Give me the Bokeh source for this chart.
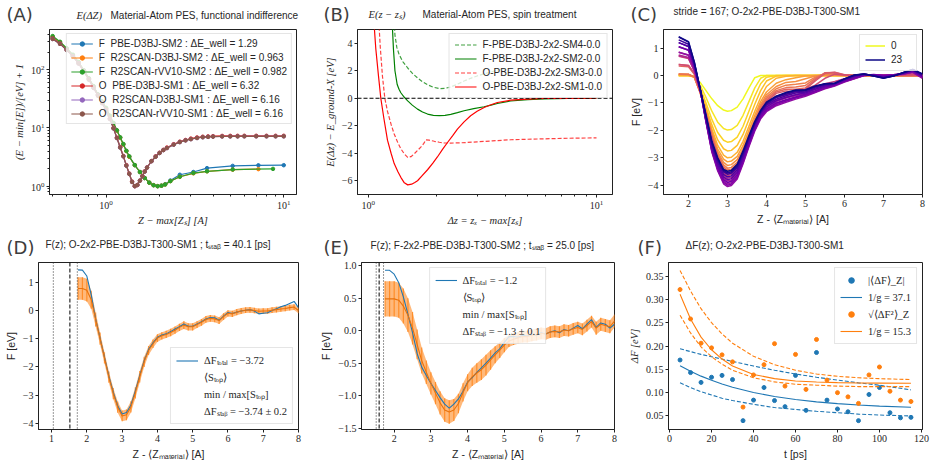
import numpy as np
from bokeh.plotting import figure
from bokeh.models import (Range1d, FixedTicker, CustomJSTickFormatter, Legend,
                          LegendItem, Span)
from bokeh.core.properties import value
from bokeh.layouts import column, row
from bokeh.embed import file_html
from bokeh.resources import INLINE
from bokeh.palettes import Plasma256

# ------------------------------------------------------------------ data (A)
A_X_O = [0.50, 0.55, 0.60, 0.65, 0.70, 0.75, 0.80, 0.85, 0.90, 0.95,
         1.00, 1.05, 1.10, 1.15, 1.20, 1.25, 1.30, 1.35, 1.40, 1.45,
         1.50, 1.55, 1.60, 1.65, 1.70, 1.80, 1.90, 2.00, 2.10, 2.20,
         2.40, 2.60, 2.80, 3.00, 3.25, 3.50, 3.75, 4.00, 4.50, 5.00,
         5.50, 6.00, 7.00, 8.00, 9.00, 10.0]
A_O_PBE = [343, 280, 218, 170, 128, 93, 68, 49, 36, 27,
           20.5, 14.5, 10.0, 6.8, 4.7, 3.3, 2.3, 1.65, 1.2, 1.0,
           1.05, 1.25, 1.5, 1.8, 2.1, 2.7, 3.25, 3.75, 4.2, 4.6,
           5.25, 5.8, 6.2, 6.55, 6.85, 7.05, 7.15, 7.22, 7.28, 7.30,
           7.31, 7.32, 7.32, 7.32, 7.32, 7.32]
A_O_R2 = [335, 276, 216, 169, 127, 92, 67, 48.5, 35.5, 26.5,
          20.0, 14.2, 9.8, 6.7, 4.6, 3.25, 2.25, 1.62, 1.18, 1.0,
          1.05, 1.24, 1.48, 1.78, 2.08, 2.68, 3.2, 3.7, 4.15, 4.5,
          5.15, 5.7, 6.1, 6.4, 6.7, 6.9, 7.0, 7.07, 7.12, 7.14,
          7.15, 7.16, 7.16, 7.16, 7.16, 7.16]
A_X_F = [0.50, 0.55, 0.60, 0.65, 0.70, 0.75, 0.80, 0.85, 0.90, 0.95,
         1.00, 1.05, 1.10, 1.15, 1.20, 1.25, 1.30, 1.35, 1.45, 1.55,
         1.65, 1.75, 1.85, 1.95, 2.05, 2.15, 2.30, 2.60, 3.10, 3.70,
         5.16, 7.20, 10.0]
A_F_PBE = [360, 290, 225, 175, 132, 96, 70, 51, 37, 28,
           21.5, 16.0, 12.0, 9.0, 6.8, 5.2, 4.0, 3.2, 2.3, 1.75,
           1.38, 1.15, 1.04, 1.0, 1.02, 1.08, 1.25, 1.57, 1.75, 2.04,
           2.23, 2.28, 2.29]
A_X_F_R2D = [0.50, 0.55, 0.60, 0.65, 0.70, 0.75, 0.80, 0.85, 0.90, 0.95,
             1.00, 1.05, 1.10, 1.15, 1.20, 1.25, 1.30, 1.35, 1.45, 1.55,
             1.65, 1.75, 1.85, 1.95, 2.05, 2.15, 2.30, 2.60, 3.10, 3.70,
             5.16, 7.20]
A_F_R2D = [365, 293, 227, 176, 133, 96, 70, 51, 37, 28,
           21.5, 16.0, 12.0, 9.0, 6.8, 5.2, 4.0, 3.2, 2.3, 1.75,
           1.38, 1.15, 1.04, 1.0, 1.02, 1.07, 1.22, 1.45, 1.66, 1.80,
           1.92, 1.96]
A_X_F_R2V = [0.50, 0.55, 0.60, 0.65, 0.70, 0.75, 0.80, 0.85, 0.90, 0.95,
             1.00, 1.05, 1.10, 1.15, 1.20, 1.25, 1.30, 1.35, 1.45, 1.55,
             1.65, 1.75, 1.85, 1.95, 2.05, 2.15, 2.30, 2.60, 3.10, 3.70,
             5.16, 8.70]
A_F_R2V = [376, 300, 232, 180, 135, 97, 71, 52, 37.5, 28.5,
           22.0, 16.2, 12.2, 9.1, 6.9, 5.3, 4.05, 3.25, 2.3, 1.75,
           1.38, 1.15, 1.04, 1.0, 1.02, 1.07, 1.22, 1.45, 1.68, 1.80,
           1.93, 1.98]
A_LABELS = ["F  PBE-D3BJ-SM2 : ΔE_well = 1.29",
            "F  R2SCAN-D3BJ-SM2 : ΔE_well = 0.963",
            "F  R2SCAN-rVV10-SM2 : ΔE_well = 0.982",
            "O  PBE-D3BJ-SM1 : ΔE_well = 6.32",
            "O  R2SCAN-D3BJ-SM1 : ΔE_well = 6.16",
            "O  R2SCAN-rVV10-SM1 : ΔE_well = 6.16"]
A_XTICKS = [1, 10]
A_XMINOR = [0.5, 0.6, 0.7, 0.8, 0.9, 2, 3, 4, 5, 6, 7, 8, 9]
A_YTICKS = [1, 10, 100]
A_YMINOR = [0.8, 0.9, 2, 3, 4, 5, 6, 7, 8, 9, 20, 30, 40, 50, 60, 70, 80, 90, 200, 300, 400]

# ------------------------------------------------------------------ data (B)
B_X_SM4 = [1.29, 1.31, 1.335, 1.367, 1.42, 1.49, 1.56, 1.645, 1.73, 1.82,
           1.93, 2.05, 2.17, 2.30, 2.46, 2.63, 2.81, 3.00, 3.22, 3.45, 3.70, 4.00]
B_E_SM4 = [6.5, 4.6, 3.7, 3.17, 2.65, 2.2, 1.82, 1.48, 1.2, 0.98,
           0.8, 0.7, 0.72, 0.82, 1.02, 1.25, 1.45, 1.62, 1.78, 1.92, 2.05, 2.15]
B_X_SM2 = [1.270, 1.29, 1.31, 1.34, 1.365, 1.39, 1.44, 1.49, 1.56, 1.645,
           1.73, 1.82, 1.93, 2.05, 2.17, 2.30, 2.46, 2.63, 2.90, 3.22,
           3.45, 3.68, 4.21, 5.00, 5.90, 7.50, 10.0]
B_E_SM2 = [6.0, 3.6, 2.0, 1.0, 0.65, 0.4, 0.07, -0.19, -0.5, -0.79,
           -1.0, -1.15, -1.24, -1.27, -1.24, -1.17, -1.05, -0.91, -0.76, -0.62,
           -0.5, -0.38, -0.2, -0.1, -0.05, -0.02, 0.0]
B_X_SM3 = [1.105, 1.13, 1.155, 1.183, 1.215, 1.26, 1.30, 1.35, 1.39, 1.44,
           1.49, 1.54, 1.59, 1.645, 1.70, 1.75, 1.79, 1.85, 1.95, 2.05,
           2.15, 2.30, 2.46, 2.70, 3.00, 3.50, 4.21, 5.00, 5.90, 7.50, 10.0]
B_E_SM3 = [6.5, 3.7, 1.6, 0.0, -0.95, -1.9, -2.6, -3.25, -3.67, -4.05,
           -4.3, -4.25, -4.05, -3.8, -3.55, -3.3, -3.02, -3.05, -3.13, -3.2,
           -3.25, -3.26, -3.25, -3.22, -3.17, -3.1, -3.02, -2.98, -2.95, -2.91, -2.88]
B_X_SM1 = [1.055, 1.08, 1.11, 1.136, 1.17, 1.215, 1.26, 1.30, 1.35, 1.39,
           1.44, 1.49, 1.55, 1.60, 1.645, 1.72, 1.82, 1.92, 2.01, 2.12,
           2.23, 2.35, 2.46, 2.63, 2.81, 3.00, 3.22, 3.45, 3.68, 4.21,
           5.00, 5.90, 7.50, 10.0]
B_E_SM1 = [6.0, 3.6, 1.6, 0.0, -1.4, -3.05, -4.0, -4.75, -5.35, -5.75,
           -6.15, -6.3, -6.25, -6.12, -6.0, -5.65, -5.2, -4.72, -4.27, -3.7,
           -3.2, -2.7, -2.25, -1.72, -1.27, -0.95, -0.67, -0.47, -0.31, -0.14,
           -0.06, -0.02, -0.01, 0.0]
B_LABELS = ["F-PBE-D3BJ-2x2-SM4-0.0", "F-PBE-D3BJ-2x2-SM2-0.0",
            "O-PBE-D3BJ-2x2-SM3-0.0", "O-PBE-D3BJ-2x2-SM1-0.0"]
B_REF = 0.0
B_XTICKS = [1, 10]
B_XMINOR = [2, 3, 4, 5, 6, 7, 8, 9]
B_YTICKS = [-6, -4, -2, 0, 2, 4]

# ------------------------------------------------------------------ data (C)
C_X = [1.75, 2.0, 2.15, 2.3, 2.45, 2.6, 2.75, 2.9,
       3.0, 3.1, 3.25, 3.4, 3.55, 3.7, 3.85, 4.0,
       4.25, 4.5, 4.75, 5.0, 5.25, 5.5, 5.75, 6.0,
       6.25, 6.5, 6.75, 7.0, 7.25, 7.5, 7.75, 8.0]
C_F00 = [0, 0, -0.02, -0.25, -0.55, -0.85, -1.10, -1.26,
         -1.30, -1.28, -1.15, -0.85, -0.45, -0.08, 0, 0,
         0, 0, 0, 0, 0, 0, 0, 0,
         0, 0, 0, 0, 0, 0, 0, 0]
C_F01 = [0, 0, -0.03, -0.35, -0.80, -1.30, -1.70, -1.93,
         -1.99, -1.97, -1.82, -1.45, -0.95, -0.45, -0.10, 0,
         0, 0, 0, 0, 0, 0, 0, 0,
         0, 0, 0, 0, 0, 0, 0, 0]
C_F02 = [0, 0, -0.04, -0.45, -1.00, -1.60, -2.08, -2.36,
         -2.43, -2.41, -2.25, -1.85, -1.30, -0.75, -0.30, -0.06,
         0, 0, 0, 0, 0, 0, 0, 0,
         0, 0, 0, 0, 0, 0, 0, 0]
C_F03 = [0, 0, -0.05, -0.50, -1.15, -1.80, -2.35, -2.67,
         -2.75, -2.73, -2.55, -2.15, -1.60, -1.05, -0.55, -0.20,
         -0.02, 0, 0, 0, 0, 0, 0, 0,
         0, 0, 0, 0, 0, 0, 0, 0]
C_F04 = [0, 0, -0.05, -0.55, -1.25, -1.95, -2.55, -2.90,
         -3.00, -2.98, -2.80, -2.40, -1.85, -1.30, -0.80, -0.40,
         -0.10, -0.03, 0, 0, 0, 0, 0, 0,
         0, 0, 0, 0, 0, 0, 0, 0]
C_F05 = [0.05, 0.04, -0.05, -0.60, -1.30, -2.05, -2.68, -3.05,
         -3.15, -3.12, -2.95, -2.55, -2.00, -1.45, -0.95, -0.60,
         -0.28, -0.15, -0.08, -0.02, 0, 0, 0, 0,
         0, 0, 0, 0, 0, 0, 0, 0]
C_F06 = [0.05, 0.04, -0.06, -0.62, -1.35, -2.12, -2.78, -3.17,
         -3.28, -3.25, -3.07, -2.67, -2.12, -1.57, -1.05, -0.70,
         -0.40, -0.25, -0.22, -0.12, -0.02, 0.03, 0.01, 0,
         0, 0, 0, 0, 0, 0, 0, 0]
C_F07 = [0.05, 0.04, -0.06, -0.63, -1.38, -2.18, -2.86, -3.26,
         -3.38, -3.35, -3.17, -2.76, -2.21, -1.65, -1.12, -0.78,
         -0.48, -0.35, -0.32, -0.27, -0.06, 0.06, 0.04, 0,
         0, 0, 0, 0, 0, 0, 0, 0]
C_F08 = [0.06, 0.05, -0.05, -0.62, -1.40, -2.22, -2.92, -3.33,
         -3.45, -3.42, -3.24, -2.83, -2.28, -1.72, -1.18, -0.84,
         -0.55, -0.44, -0.42, -0.36, -0.10, 0.10, 0.08, 0.01,
         0, 0, 0, 0, 0, 0, 0, 0]
C_F09 = [0.35, 0.32, 0.05, -0.58, -1.42, -2.26, -2.96, -3.38,
         -3.50, -3.47, -3.29, -2.88, -2.33, -1.77, -1.24, -0.90,
         -0.60, -0.50, -0.50, -0.45, -0.15, 0.10, 0.11, 0.02,
         0, 0, 0, 0, 0, 0, 0, 0]
C_F10 = [0.40, 0.37, 0.08, -0.56, -1.43, -2.29, -3.00, -3.43,
         -3.55, -3.52, -3.34, -2.93, -2.38, -1.82, -1.30, -0.95,
         -0.65, -0.56, -0.60, -0.50, -0.20, 0.08, 0.12, 0.03,
         0, 0.02, 0, 0, 0, 0, 0, 0]
C_F11 = [0.40, 0.37, 0.08, -0.56, -1.44, -2.31, -3.03, -3.47,
         -3.60, -3.57, -3.39, -2.98, -2.43, -1.87, -1.36, -1.02,
         -0.75, -0.65, -0.55, -0.50, -0.35, -0.10, 0.05, 0.02,
         -0.02, 0.02, 0, 0.02, 0, 0.03, 0.05, -0.02]
C_F12 = [0.70, 0.62, 0.18, -0.52, -1.53, -2.52, -3.14, -3.56,
         -3.65, -3.61, -3.39, -2.88, -2.30, -1.75, -1.33, -1.05,
         -0.80, -0.70, -0.62, -0.55, -0.42, -0.30, -0.22, -0.12,
         -0.04, 0.03, 0.01, 0.02, 0, 0.04, 0.10, -0.03]
C_F13 = [0.72, 0.64, 0.18, -0.52, -1.57, -2.59, -3.23, -3.66,
         -3.75, -3.71, -3.49, -2.96, -2.36, -1.80, -1.38, -1.10,
         -0.88, -0.78, -0.70, -0.60, -0.50, -0.38, -0.30, -0.18,
         -0.08, 0, 0.03, 0, 0.03, 0.05, 0.12, -0.06]
C_F14 = [0.75, 0.66, 0.18, -0.53, -1.62, -2.66, -3.31, -3.75,
         -3.85, -3.81, -3.58, -3.05, -2.45, -1.88, -1.45, -1.18,
         -0.95, -0.82, -0.74, -0.66, -0.55, -0.40, -0.32, -0.20,
         -0.10, 0.01, 0.02, -0.02, 0.02, 0.05, 0.14, -0.08]
C_F15 = [0.85, 0.74, 0.22, -0.52, -1.66, -2.73, -3.40, -3.85,
         -3.95, -3.91, -3.68, -3.14, -2.53, -1.95, -1.52, -1.25,
         -1.02, -0.90, -0.80, -0.72, -0.60, -0.45, -0.35, -0.22,
         -0.12, 0, 0.03, 0, 0.03, 0.06, 0.13, -0.08]
C_F16 = [0.85, 0.75, 0.22, -0.52, -1.70, -2.79, -3.48, -3.95,
         -4.05, -4.01, -3.77, -3.22, -2.60, -2.02, -1.58, -1.32,
         -1.10, -0.98, -0.86, -0.76, -0.62, -0.48, -0.38, -0.24,
         -0.12, 0, 0.03, 0.01, 0.03, 0.06, 0.12, -0.10]
C_F17 = [1.05, 0.92, 0.30, -0.50, -1.68, -2.76, -3.44, -3.90,
         -4.00, -3.96, -3.72, -3.17, -2.55, -1.98, -1.54, -1.28,
         -1.06, -0.94, -0.82, -0.72, -0.60, -0.46, -0.36, -0.22,
         -0.10, 0.01, 0.04, 0, 0.02, 0.06, 0.14, -0.06]
C_F18 = [1.05, 0.93, 0.32, -0.50, -1.64, -2.69, -3.35, -3.80,
         -3.90, -3.86, -3.63, -3.09, -2.48, -1.92, -1.48, -1.22,
         -1.00, -0.88, -0.78, -0.68, -0.56, -0.42, -0.34, -0.20,
         -0.08, 0.02, 0.03, -0.02, 0.02, 0.07, 0.16, -0.04]
C_F19 = [1.20, 1.06, 0.38, -0.49, -1.60, -2.62, -3.27, -3.71,
         -3.80, -3.76, -3.53, -3.00, -2.40, -1.84, -1.40, -1.14,
         -0.92, -0.80, -0.70, -0.64, -0.50, -0.38, -0.32, -0.17,
         -0.04, 0.04, 0.02, -0.05, 0, 0.08, 0.18, -0.02]
C_F20 = [1.20, 1.06, 0.40, -0.49, -1.55, -2.55, -3.18, -3.61,
         -3.70, -3.66, -3.44, -2.92, -2.33, -1.78, -1.36, -1.08,
         -0.86, -0.74, -0.64, -0.60, -0.46, -0.35, -0.30, -0.15,
         -0.02, 0.05, 0, -0.07, -0.01, 0.09, 0.20, 0]
C_F21 = [1.30, 1.14, 0.44, -0.49, -1.51, -2.48, -3.10, -3.51,
         -3.60, -3.56, -3.35, -2.84, -2.27, -1.73, -1.32, -1.03,
         -0.80, -0.68, -0.58, -0.56, -0.42, -0.32, -0.29, -0.13,
         0, 0.06, -0.01, -0.08, -0.02, 0.10, 0.21, 0.03]
C_F22 = [1.40, 1.22, 0.48, -0.49, -1.49, -2.45, -3.05, -3.46,
         -3.55, -3.51, -3.30, -2.80, -2.24, -1.70, -1.30, -1.00,
         -0.77, -0.64, -0.55, -0.54, -0.40, -0.31, -0.28, -0.12,
         0.01, 0.06, -0.02, -0.09, -0.02, 0.10, 0.22, 0.05]
C_F23 = [1.42, 1.24, 0.50, -0.50, -1.45, -2.40, -3.00, -3.43,
         -3.49, -3.46, -3.24, -2.75, -2.20, -1.68, -1.27, -0.97,
         -0.75, -0.62, -0.53, -0.52, -0.38, -0.30, -0.28, -0.12,
         0.02, 0.06, -0.02, -0.10, -0.02, 0.10, 0.22, 0.06]
C_CURVES = [C_F00, C_F01, C_F02, C_F03, C_F04, C_F05, C_F06, C_F07, C_F08, C_F09,
            C_F10, C_F11, C_F12, C_F13, C_F14, C_F15, C_F16, C_F17, C_F18, C_F19,
            C_F20, C_F21, C_F22, C_F23]
C_XTICKS = [2, 3, 4, 5, 6, 7, 8]
C_YTICKS = [-4, -3, -2, -1, 0, 1]

# ------------------------------------------------------------------ data (D, E)
X_DE = [1.75, 1.875, 2.0, 2.125, 2.25, 2.375, 2.5, 2.625, 2.75, 2.875,
        3.0, 3.125, 3.25, 3.375, 3.5, 3.625, 3.75, 3.875, 4.0, 4.125,
        4.25, 4.375, 4.5, 4.625, 4.75, 4.875, 5.0, 5.125, 5.25, 5.375,
        5.5, 5.625, 5.75, 5.875, 6.0, 6.125, 6.25, 6.375, 6.5, 6.625,
        6.75, 6.875, 7.0, 7.125, 7.25, 7.375, 7.5, 7.625, 7.75, 7.875,
        8.0]
D_TOTAL = [1.44, 1.43, 1.22, 0.55, -0.30, -0.98, -1.65, -2.33, -2.90, -3.38,
           -3.67, -3.62, -3.35, -2.85, -2.30, -1.78, -1.38, -1.15, -0.95, -0.87,
           -0.83, -0.75, -0.66, -0.58, -0.48, -0.56, -0.56, -0.48, -0.40, -0.30,
           -0.25, -0.26, -0.35, -0.20, -0.07, -0.11, -0.06, -0.02, 0.01, 0.03,
           -0.02, -0.12, -0.10, -0.08, 0.00, 0.06, 0.13, 0.18, 0.25, 0.32,
           0.10]
D_STAB = [0.78, 0.78, 0.72, 0.38, -0.32, -1.00, -1.68, -2.36, -2.95, -3.43,
          -3.74, -3.70, -3.42, -2.92, -2.35, -1.82, -1.42, -1.18, -0.98, -0.90,
          -0.85, -0.78, -0.70, -0.60, -0.52, -0.58, -0.58, -0.50, -0.42, -0.32,
          -0.28, -0.30, -0.36, -0.22, -0.10, -0.12, -0.06, -0.02, 0.01, 0.02,
          0.00, -0.03, -0.02, -0.02, 0.01, 0.03, 0.05, 0.07, 0.10, 0.12,
          0.00]
D_ERR = [0.40, 0.40, 0.40, 0.32, 0.25, 0.22, 0.20, 0.20, 0.20, 0.20,
         0.19, 0.19, 0.20, 0.20, 0.20, 0.18, 0.16, 0.15, 0.14, 0.13,
         0.13, 0.13, 0.13, 0.13, 0.14, 0.13, 0.13, 0.12, 0.12, 0.12,
         0.12, 0.12, 0.12, 0.12, 0.11, 0.11, 0.11, 0.11, 0.10, 0.10,
         0.10, 0.10, 0.10, 0.10, 0.10, 0.10, 0.10, 0.10, 0.10, 0.10,
         0.10]
D_S_MINMAX = [1.05, 1.73]
D_S_MEAN = [1.52]
E_TOTAL = [0.93, 0.93, 0.87, 0.74, 0.52, 0.25, -0.03, -0.35, -0.56, -0.69,
           -0.81, -0.92, -1.03, -1.13, -1.19, -1.13, -1.05, -0.93, -0.79, -0.72,
           -0.64, -0.57, -0.50, -0.42, -0.34, -0.28, -0.18, -0.09, -0.09, -0.10,
           -0.07, -0.08, -0.05, -0.07, -0.03, -0.05, -0.02, 0.00, -0.03, 0.02,
           0.00, 0.04, 0.08, 0.03, 0.10, 0.17, 0.05, 0.12, 0.10, 0.04,
           0.10]
E_STAB = [0.49, 0.49, 0.49, 0.47, 0.38, 0.24, 0.04, -0.21, -0.46, -0.64,
          -0.81, -0.96, -1.11, -1.22, -1.25, -1.22, -1.12, -0.95, -0.80, -0.71,
          -0.65, -0.60, -0.53, -0.45, -0.37, -0.30, -0.22, -0.16, -0.13, -0.11,
          -0.09, -0.09, -0.07, -0.06, -0.04, -0.05, -0.02, -0.01, -0.02, 0.01,
          0.00, 0.03, 0.05, 0.02, 0.08, 0.14, 0.04, 0.10, 0.08, 0.06,
          0.15]
E_ERR = [0.27, 0.27, 0.27, 0.27, 0.27, 0.26, 0.25, 0.23, 0.20, 0.18,
         0.17, 0.17, 0.18, 0.18, 0.18, 0.17, 0.15, 0.14, 0.13, 0.14,
         0.15, 0.16, 0.16, 0.15, 0.13, 0.12, 0.11, 0.09, 0.09, 0.09,
         0.09, 0.09, 0.09, 0.09, 0.09, 0.09, 0.09, 0.09, 0.09, 0.09,
         0.09, 0.09, 0.09, 0.09, 0.09, 0.09, 0.10, 0.10, 0.10, 0.10,
         0.10]
E_S_MINMAX = [1.51, 1.71]
E_S_MEAN = [1.59]
D_XTICKS = [1, 2, 3, 4, 5, 6, 7, 8]
D_YTICKS = [-4, -3, -2, -1, 0, 1]
E_XTICKS = [2, 3, 4, 5, 6, 7, 8]
E_YTICKS = [-1.5, -1.0, -0.5, 0.0, 0.5, 1.0]

# ------------------------------------------------------------------ data (F)
F_T = [5, 10, 15, 20, 25, 30, 35, 40, 45, 50, 55, 60, 65, 70, 75, 80, 85, 90,
       95, 100, 105, 110, 115]
F_ABS = [0.170, 0.143, 0.122, 0.133, 0.137, 0.128, 0.040, 0.084, 0.111, 0.083,
         0.070, 0.137, 0.062, 0.186, 0.084, 0.065, 0.059, 0.040, 0.096, 0.111,
         0.057, 0.046, 0.047]
F_RMS = [0.321, 0.258, 0.206, 0.196, 0.181, 0.166, 0.069, 0.138, 0.160, 0.205,
         0.114, 0.182, 0.107, 0.214, 0.127, 0.100, 0.091, 0.077, 0.138, 0.155,
         0.103, 0.084, 0.081]
F_TFIT = [5, 10, 15, 20, 25, 30, 40, 50, 60, 70, 80, 90, 100, 115]
F_ABS_FIT = [0.1575, 0.1457, 0.1354, 0.1264, 0.1186, 0.1116, 0.1004, 0.0918,
             0.0852, 0.0802, 0.0764, 0.0735, 0.0712, 0.0688]
F_ABS_HI = [0.194, 0.188, 0.182, 0.177, 0.172, 0.167, 0.157, 0.148, 0.140,
            0.133, 0.127, 0.121, 0.116, 0.106]
F_ABS_LO = [0.121, 0.111, 0.102, 0.095, 0.088, 0.083, 0.075, 0.068, 0.064,
            0.060, 0.057, 0.054, 0.052, 0.050]
F_RMS_FIT = [0.311, 0.258, 0.219, 0.192, 0.172, 0.157, 0.139, 0.130, 0.125,
             0.1227, 0.1214, 0.1207, 0.1204, 0.120]
F_RMS_HI = [0.362, 0.318, 0.280, 0.250, 0.226, 0.206, 0.178, 0.160, 0.148,
            0.140, 0.135, 0.132, 0.130, 0.128]
F_RMS_LO = [0.266, 0.228, 0.198, 0.177, 0.161, 0.148, 0.132, 0.123, 0.118,
            0.116, 0.114, 0.113, 0.113, 0.113]
F_XTICKS = [0, 20, 40, 60, 80, 100, 120]
F_YTICKS = [0.05, 0.10, 0.15, 0.20, 0.25, 0.30, 0.35]

# ------------------------------------------------------------------ titles
TITLE_A = ("E(ΔZ)", "Material-Atom PES, functional indifference")
TITLE_B = ("E(z − zₛ)", "Material-Atom PES, spin treatment")
TITLE_C = "stride = 167; O-2x2-PBE-D3BJ-T300-SM1"
TITLE_D = "F(z); O-2x2-PBE-D3BJ-T300-SM1 ; tₛₜₐᵦ = 40.1 [ps]"
TITLE_E = "F(z); F-2x2-PBE-D3BJ-T300-SM2 ; tₛₜₐᵦ = 25.0 [ps]"
TITLE_F = "ΔF(z); O-2x2-PBE-D3BJ-T300-SM1"

# ------------------------------------------------------------------ styling helpers
SERIF = "Liberation Serif"
SANS = "Liberation Sans"
LETTER_FONT = "DejaVu Sans"
TXT = "#262626"
BLUE, ORANGE, GREEN, RED, PURPLE, BROWN = ("#1f77b4", "#ff7f0e", "#2ca02c",
                                           "#d62728", "#9467bd", "#8c564b")
DOT = "1 2"
DASH = "4 2"
LETTER_SIZE = "18px"
LETTER_COLOR = "#3d3d3d"
W_TOTAL = 934
H_HEAD1 = 24
H_HEAD2 = 23


def num_fmt(d):
    return CustomJSTickFormatter(args=dict(d=d), code="""
        const a = Math.abs(tick) < 1e-9 ? 0 : tick;
        const s = Math.abs(a).toFixed(d);
        return (a < 0 ? "\\u2212" : "") + s;
    """)


def make_fig(w, h, bl, br, bt, bb, xr, yr, xt="linear", yt="linear"):
    p = figure(width=w, height=h, x_range=Range1d(*xr), y_range=Range1d(*yr),
               x_axis_type=xt, y_axis_type=yt, output_backend="svg",
               toolbar_location=None, title_location=None,
               min_border_left=bl, min_border_right=br,
               min_border_top=bt, min_border_bottom=bb)
    p.xgrid.visible = False
    p.ygrid.visible = False
    p.outline_line_color = "#222222"
    p.outline_line_width = 1
    p.outline_line_alpha = 1.0
    p.background_fill_color = "white"
    p.border_fill_color = "white"
    for ax in (p.xaxis[0], p.yaxis[0]):
        ax.axis_line_color = "#222222"
        ax.major_tick_line_color = "#222222"
        ax.minor_tick_line_color = "#222222"
        ax.major_tick_out = 3
        ax.major_tick_in = 0
        ax.minor_tick_out = 2
        ax.minor_tick_in = 0
        ax.major_label_text_font = SERIF
        ax.major_label_text_font_size = "10px"
        ax.major_label_text_color = TXT
        ax.major_label_standoff = 2
        ax.axis_label_text_font = SANS
        ax.axis_label_text_font_size = "10.5px"
        ax.axis_label_text_font_style = "normal"
        ax.axis_label_text_color = TXT
        ax.axis_label_standoff = 3
    if xt == "linear":
        p.xaxis.minor_tick_line_color = None
    if yt == "linear":
        p.yaxis.minor_tick_line_color = None
    return p


def header(w, h, texts):
    """A full-width strip above a row of panels holding the letters and titles."""
    p = figure(width=w, height=h, x_range=Range1d(0, w), y_range=Range1d(h, 0),
               output_backend="svg", toolbar_location=None, title_location=None,
               x_axis_location=None, y_axis_location=None,
               min_border_left=0, min_border_right=0, min_border_top=0,
               min_border_bottom=0)
    p.outline_line_color = None
    p.background_fill_color = "white"
    p.border_fill_color = "white"
    p.xgrid.visible = False
    p.ygrid.visible = False
    for (tx, ty, t, font, size, style, color) in texts:
        p.text(x=[tx], y=[ty], text=[t], text_font=value(font),
               text_font_size=value(size), text_font_style=style,
               text_color=color, text_baseline="middle", text_align="left")
    return p


def add_legend(p, items, loc, font=SANS, size="10px", gw=22, gh=11, spacing=3,
               padding=4, margin=4):
    lg = Legend(items=items, location=loc)
    lg.label_text_font = font
    lg.label_text_font_size = size
    lg.label_text_color = TXT
    lg.background_fill_color = "white"
    lg.background_fill_alpha = 0.8
    lg.border_line_color = "#cccccc"
    lg.border_line_width = 1
    lg.glyph_width = gw
    lg.glyph_height = gh
    lg.label_height = gh
    lg.label_standoff = 6
    lg.spacing = spacing
    lg.padding = padding
    lg.margin = margin
    p.add_layout(lg)
    return lg


def letter(x, y, t):
    return (x, y, t, LETTER_FONT, LETTER_SIZE, "normal", LETTER_COLOR)


def ttl(x, y, t, font=SANS, size="10px", style="normal"):
    return (x, y, t, font, size, style, TXT)


# ------------------------------------------------------------------ headers
head1 = header(W_TOTAL, H_HEAD1, [
    letter(6, 14, "(A)"),
    ttl(76, 15, TITLE_A[0], SERIF, "10.5px", "italic"),
    ttl(110, 15, TITLE_A[1]),
    letter(323, 14, "(B)"),
    ttl(368, 14, TITLE_B[0], SERIF, "10.5px", "italic"),
    ttl(422, 14, TITLE_B[1]),
    letter(630, 14, "(C)"),
    ttl(673, 11, TITLE_C),
])
head2 = header(W_TOTAL, H_HEAD2, [
    letter(6, 13, "(D)"),
    ttl(45, 10, TITLE_D),
    letter(323, 13, "(E)"),
    ttl(370, 11, TITLE_E),
    letter(637, 13, "(F)"),
    ttl(685, 11, TITLE_F),
])

# ------------------------------------------------------------------ panel A
pA = make_fig(311, 234 - H_HEAD1, 49, 15, 29 - H_HEAD1, 37, (0.48, 11.8), (0.72, 487),
              "log", "log")
pA.xaxis.ticker = FixedTicker(ticks=A_XTICKS, minor_ticks=A_XMINOR)
pA.yaxis.ticker = FixedTicker(ticks=A_YTICKS, minor_ticks=A_YMINOR)
pA.xaxis.axis_label = "Z − max[Zₛ] [A]"
pA.xaxis.axis_label_text_font = SERIF
pA.xaxis.axis_label_text_font_style = "italic"
pA.yaxis.axis_label = "(E − min[E])/[eV] + 1"
pA.yaxis.axis_label_text_font = SERIF
pA.yaxis.axis_label_text_font_style = "italic"
a_series = [(A_X_F, A_F_PBE, BLUE), (A_X_F_R2D, A_F_R2D, ORANGE),
            (A_X_F_R2V, A_F_R2V, GREEN), (A_X_O, A_O_PBE, RED),
            (A_X_O, A_O_R2, PURPLE), (A_X_O, A_O_R2, BROWN)]
a_items = []
for (xs, ys, c), lbl in zip(a_series, A_LABELS):
    rl = pA.line(xs, ys, line_color=c, line_width=1.2)
    rs = pA.scatter(xs, ys, size=3.5, fill_color=c, line_color=c)
    a_items.append(LegendItem(label=lbl, renderers=[rl, rs]))
add_legend(pA, a_items, "top_right", size="10px", gh=11, spacing=3)

# ------------------------------------------------------------------ panel B
pB = make_fig(311, 234 - H_HEAD1, 46, 10, 29 - H_HEAD1, 40, (0.898, 11.75), (-7, 5),
              "log", "linear")
pB.xaxis.ticker = FixedTicker(ticks=B_XTICKS, minor_ticks=B_XMINOR)
pB.yaxis.ticker = FixedTicker(ticks=B_YTICKS)
pB.yaxis.formatter = num_fmt(0)
pB.xaxis.axis_label = "Δz = zₓ − max[zₛ]"
pB.xaxis.axis_label_text_font = SERIF
pB.xaxis.axis_label_text_font_style = "italic"
pB.yaxis.axis_label = "E(Δz) − E_ground-X [eV]"
pB.yaxis.axis_label_text_font = SERIF
pB.yaxis.axis_label_text_font_style = "italic"
pB.add_layout(Span(location=B_REF, dimension="width", line_color="black",
                   line_dash=DASH, line_width=1))
b_series = [(B_X_SM4, B_E_SM4, "green", DASH, 0.75), (B_X_SM2, B_E_SM2, "green", "solid", 1.0),
            (B_X_SM3, B_E_SM3, "red", DASH, 0.75), (B_X_SM1, B_E_SM1, "red", "solid", 1.0)]
b_items = []
for (xs, ys, c, dash, al), lbl in zip(b_series, B_LABELS):
    r = pB.line(xs, ys, line_color=c, line_dash=dash, line_width=1.2, line_alpha=al)
    b_items.append(LegendItem(label=lbl, renderers=[r]))
add_legend(pB, b_items, "top_right", size="10px", gh=11, spacing=3, padding=5)

# ------------------------------------------------------------------ panel C
pC = make_fig(312, 234 - H_HEAD1, 41, 12, 26 - H_HEAD1, 38, (1.36, 8.0), (-4.34, 1.68))
pC.xaxis.ticker = FixedTicker(ticks=C_XTICKS)
pC.yaxis.ticker = FixedTicker(ticks=C_YTICKS)
pC.xaxis.formatter = num_fmt(0)
pC.yaxis.formatter = num_fmt(0)
pC.xaxis.axis_label = "Z - ⟨Zₘₐₜₑᵣᵢₐₗ⟩ [A]"
pC.yaxis.axis_label = "F [eV]"
n_c = len(C_CURVES)
c_rend = []
for k, ys in enumerate(C_CURVES):
    col = Plasma256[int(round((1 - k / (n_c - 1)) * 255))]
    c_rend.append(pC.line(C_X, ys, line_color=col, line_width=1.5))
add_legend(pC, [LegendItem(label="0", renderers=[c_rend[0]]),
                LegendItem(label=str(n_c - 1), renderers=[c_rend[-1]])],
           "top_right", size="10px", gw=20, gh=11, spacing=3, padding=5, margin=5)


# ------------------------------------------------------------------ panels D / E
def fe_panel(p, total, stab, err, s_minmax, s_mean, lbl_total, lbl_stab):
    lo = [s - e for s, e in zip(stab, err)]
    hi = [s + e for s, e in zip(stab, err)]
    for v in s_minmax:
        p.add_layout(Span(location=v, dimension="height", line_color="#333333",
                          line_dash=DOT, line_width=1))
    for v in s_mean:
        p.add_layout(Span(location=v, dimension="height", line_color="black",
                          line_dash=DASH, line_width=1))
    p.varea(x=X_DE, y1=lo, y2=hi, fill_color=ORANGE, fill_alpha=0.55)
    p.segment(x0=X_DE, y0=lo, x1=X_DE, y1=hi, line_color=ORANGE, line_alpha=0.75,
              line_width=1.2)
    rb = p.line(X_DE, total, line_color=BLUE, line_width=1.1)
    p.line(X_DE, stab, line_color="#e8720c", line_width=1.1)
    d_mean = p.line(x=[], y=[], line_color="black", line_dash=DASH, line_width=1)
    d_mm = p.line(x=[], y=[], line_color="#333333", line_dash=DOT, line_width=1)
    d_err = p.line(x=[], y=[], line_color=ORANGE, line_width=1.4)
    d_bar = p.scatter(x=[], y=[], marker="cross", size=14, line_color=ORANGE,
                      line_width=1.4)
    return [LegendItem(label=lbl_total, renderers=[rb]),
            LegendItem(label="⟨Sₜₒₚ⟩", renderers=[d_mean]),
            LegendItem(label="min / max[Sₜₒₚ]", renderers=[d_mm]),
            LegendItem(label=lbl_stab, renderers=[d_err, d_bar])]


pD = make_fig(311, 234 - H_HEAD2, 38, 13, 25 - H_HEAD2, 39, (0.63, 8.0), (-4.22, 1.70))
pD.xaxis.ticker = FixedTicker(ticks=D_XTICKS)
pD.yaxis.ticker = FixedTicker(ticks=D_YTICKS)
pD.xaxis.formatter = num_fmt(0)
pD.yaxis.formatter = num_fmt(0)
pD.xaxis.axis_label = "Z - ⟨Zₘₐₜₑᵣᵢₐₗ⟩ [A]"
pD.yaxis.axis_label = "F [eV]"
d_items = fe_panel(pD, D_TOTAL, D_STAB, D_ERR, D_S_MINMAX, D_S_MEAN,
                   "ΔFₜₒₜₐₗ = −3.72", "ΔFₛₜₐᵦ = −3.74 ± 0.2")
add_legend(pD, d_items, "bottom_right", font=SERIF, size="10.5px", gw=22, gh=13,
           spacing=3, padding=5, margin=5)

pE = make_fig(311, 234 - H_HEAD2, 50, 8, 28 - H_HEAD2, 36, (1.11, 8.0), (-1.52, 1.05))
pE.xaxis.ticker = FixedTicker(ticks=E_XTICKS)
pE.yaxis.ticker = FixedTicker(ticks=E_YTICKS)
pE.xaxis.formatter = num_fmt(0)
pE.yaxis.formatter = num_fmt(1)
pE.xaxis.axis_label = "Z - ⟨Zₘₐₜₑᵣᵢₐₗ⟩ [A]"
pE.yaxis.axis_label = "F [eV]"
e_items = fe_panel(pE, E_TOTAL, E_STAB, E_ERR, E_S_MINMAX, E_S_MEAN,
                   "ΔFₜₒₜₐₗ = −1.2", "ΔFₛₜₐᵦ = −1.3 ± 0.1")
add_legend(pE, e_items, "top_center", font=SERIF, size="10.5px", gw=22, gh=12,
           spacing=3, padding=5, margin=5)

# ------------------------------------------------------------------ panel F
pF = make_fig(312, 234 - H_HEAD2, 46, 12, 26 - H_HEAD2, 34, (-0.5, 120.5), (0.021, 0.379))
pF.xaxis.ticker = FixedTicker(ticks=F_XTICKS)
pF.yaxis.ticker = FixedTicker(ticks=F_YTICKS)
pF.xaxis.formatter = num_fmt(0)
pF.yaxis.formatter = num_fmt(2)
pF.xaxis.axis_label = "t [ps]"
pF.yaxis.axis_label = "ΔF [eV]"
pF.yaxis.axis_label_text_font = SERIF
pF.yaxis.axis_label_text_font_style = "italic"
f_abs_pts = pF.scatter(F_T, F_ABS, size=4, fill_color=BLUE, line_color=BLUE)
f_abs_fit = pF.line(F_TFIT, F_ABS_FIT, line_color=BLUE, line_width=1.1)
pF.line(F_TFIT, F_ABS_HI, line_color=BLUE, line_width=1.1, line_dash=DASH)
pF.line(F_TFIT, F_ABS_LO, line_color=BLUE, line_width=1.1, line_dash=DASH)
f_rms_pts = pF.scatter(F_T, F_RMS, size=4, fill_color=ORANGE, line_color=ORANGE)
f_rms_fit = pF.line(F_TFIT, F_RMS_FIT, line_color=ORANGE, line_width=1.1)
pF.line(F_TFIT, F_RMS_HI, line_color=ORANGE, line_width=1.1, line_dash=DASH)
pF.line(F_TFIT, F_RMS_LO, line_color=ORANGE, line_width=1.1, line_dash=DASH)
add_legend(pF, [LegendItem(label="|⟨ΔF⟩_Z|", renderers=[f_abs_pts]),
                LegendItem(label="1/g = 37.1", renderers=[f_abs_fit]),
                LegendItem(label="√⟨ΔF²⟩_Z", renderers=[f_rms_pts]),
                LegendItem(label="1/g = 15.3", renderers=[f_rms_fit])],
           "top_right", font=SERIF, size="10.5px", gw=22, gh=14, spacing=3,
           padding=5, margin=5)

# ------------------------------------------------------------------ layout
layout = column(head1, row(pA, pB, pC), head2, row(pD, pE, pF))
open("out.html", "w", encoding="utf-8").write(file_html(layout, INLINE))
